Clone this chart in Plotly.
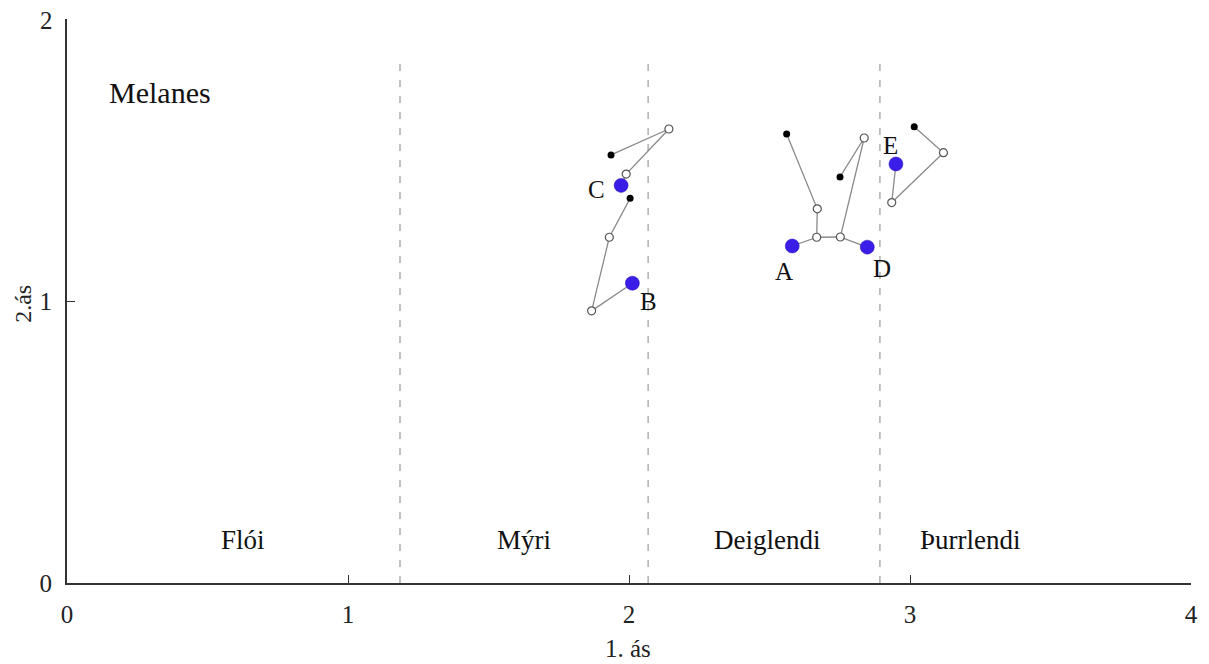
import plotly.graph_objects as go

# Trajectories: start (blue), two intermediate (open), end (black)
names = ["A", "B", "C", "D", "E"]
traj_x = {
    "A": [2.581, 2.668, 2.670, 2.561],
    "B": [2.012, 1.867, 1.930, 2.004],
    "C": [1.972, 1.990, 2.142, 1.936],
    "D": [2.848, 2.752, 2.837, 2.751],
    "E": [2.950, 2.935, 3.119, 3.015],
}
traj_y = {
    "A": [1.195, 1.226, 1.327, 1.592],
    "B": [1.063, 0.965, 1.226, 1.364],
    "C": [1.410, 1.450, 1.610, 1.518],
    "D": [1.191, 1.227, 1.578, 1.440],
    "E": [1.486, 1.349, 1.526, 1.618],
}
# segment joining A and D intermediate points
link_x = [2.668, 2.752]
link_y = [1.226, 1.227]

label_x = {"A": 2.552, "B": 2.068, "C": 1.886, "D": 2.900, "E": 2.929}
label_y = {"A": 1.106, "B": 1.000, "C": 1.394, "D": 1.117, "E": 1.553}

zone_names = ["Flói", "Mýri", "Deiglendi", "Þurrlendi"]
zone_x = [0.626, 1.626, 2.491, 3.214]
zone_y = 0.152
boundaries = [1.185, 2.068, 2.893]
boundary_top = 1.845

x_ticks = [0, 1, 2, 3, 4]
y_ticks = [0, 1, 2]
y_ticktext = ["0", "1", ""]   # top label drawn as annotation so it is not clipped
y_top_label = "2"

FONT = "Liberation Serif"
LINE = "#8a8a8a"
BLUE = "#3a1ee8"

fig = go.Figure()

for b in boundaries:
    fig.add_trace(go.Scatter(x=[b, b], y=[0, boundary_top], mode="lines",
                             line=dict(color="#9a9a9a", width=1.2, dash="7px,9px"),
                             hoverinfo="skip", showlegend=False))

fig.add_trace(go.Scatter(x=link_x, y=link_y, mode="lines",
                         line=dict(color=LINE, width=1.3), showlegend=False))

for n in names:
    xs, ys = traj_x[n], traj_y[n]
    fig.add_trace(go.Scatter(x=xs, y=ys, mode="lines",
                             line=dict(color=LINE, width=1.3), showlegend=False))
    fig.add_trace(go.Scatter(x=xs[1:3], y=ys[1:3], mode="markers",
                             marker=dict(size=8, color="white",
                                         line=dict(color="#555555", width=1.2)),
                             showlegend=False))
    fig.add_trace(go.Scatter(x=[xs[3]], y=[ys[3]], mode="markers",
                             marker=dict(size=7, color="black"), showlegend=False))
    fig.add_trace(go.Scatter(x=[xs[0]], y=[ys[0]], mode="markers",
                             marker=dict(size=14, color=BLUE,
                                         line=dict(color="#2a10b0", width=0.5)),
                             showlegend=False))
    fig.add_annotation(x=label_x[n], y=label_y[n], text=n, showarrow=False,
                       font=dict(family=FONT, size=25, color="#111"))

for zn, zx in zip(zone_names, zone_x):
    fig.add_annotation(x=zx, y=zone_y, text=zn, showarrow=False,
                       font=dict(family=FONT, size=27, color="#111"))

fig.add_annotation(x=0.143, y=1.738, text="Melanes", showarrow=False, xanchor="left",
                   font=dict(family=FONT, size=30, color="#111"))

# top y tick label
fig.add_annotation(xref="paper", x=0, y=2, text=y_top_label, showarrow=False,
                   xanchor="right", yanchor="middle", xshift=-12, yshift=-1,
                   font=dict(family=FONT, size=25, color="#222"))
# y axis title
fig.add_annotation(xref="paper", yref="paper", x=0, y=0.495, text="2.ás",
                   showarrow=False, textangle=-90, xanchor="center", yanchor="middle",
                   xshift=-44, borderpad=0,
                   font=dict(family=FONT, size=24, color="#222"))
# x axis title
fig.add_annotation(xref="paper", yref="paper", x=0.499, y=0, text="1. ás",
                   showarrow=False, xanchor="center", yanchor="middle",
                   yshift=-65, borderpad=0,
                   font=dict(family=FONT, size=25, color="#222"))

fig.update_layout(
    width=1201, height=656,
    margin=dict(l=59, r=18, t=11, b=81),
    paper_bgcolor="white", plot_bgcolor="white",
    font=dict(family=FONT, size=25, color="#222"),
    xaxis=dict(range=[0, 4], tickvals=x_ticks, ticks="inside", ticklen=8,
               tickcolor="#333", showgrid=False, zeroline=False,
               showline=True, linecolor="#333", linewidth=2,
               ticklabelstandoff=8, automargin=False,
               tickfont=dict(family=FONT, size=25)),
    yaxis=dict(range=[0, 2], tickvals=y_ticks, ticktext=y_ticktext,
               ticks="inside", ticklen=8,
               tickcolor="#333", showgrid=False, zeroline=False,
               showline=True, linecolor="#333", linewidth=2,
               ticklabelstandoff=8, automargin=False,
               tickfont=dict(family=FONT, size=25)),
)

fig.write_html("out.html")
